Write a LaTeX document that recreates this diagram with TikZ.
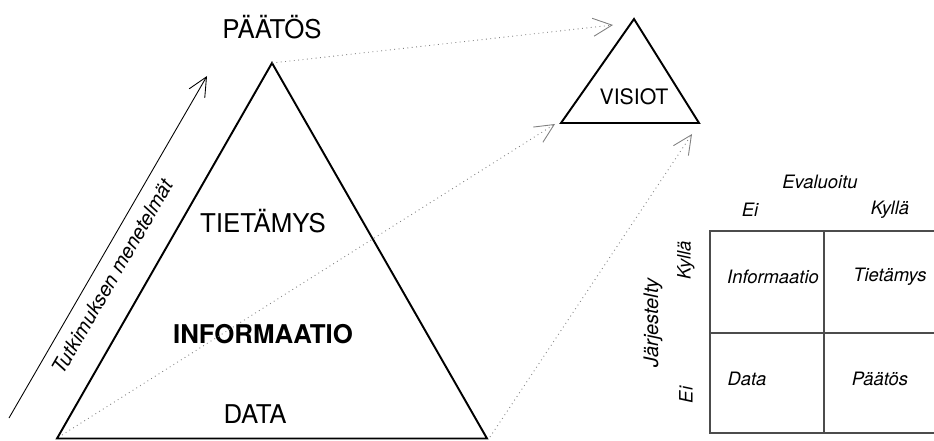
\documentclass[tikz,border=0pt]{standalone}
\usepackage{fontspec}
\setmainfont{TeX Gyre Heros}
\usetikzlibrary{arrows.meta}
\tikzset{
  big/.style={font=\fontsize{14.7}{17}\selectfont, inner sep=0pt},
  mid/.style={font=\fontsize{12.1}{14}\selectfont, inner sep=0pt},
  lab/.style={font=\fontsize{10.5}{12}\selectfont\itshape, inner sep=0pt},
  pyr/.style={line width=1.1pt, line join=miter},
  conn/.style={gray, dotted, line width=0.5pt, -{Straight Barb[length=3.8mm,width=3.6mm,line width=0.5pt]}},
  grid/.style={black!70, line width=0.6pt}
}

\begin{document}
\begin{tikzpicture}[scale=1.0]
  \useasboundingbox (0,0) rectangle (18.68,8.8);

  % Pyramid
  \coordinate (top) at (5.44,7.54);
  \coordinate (bl) at (1.14,0.03);
  \coordinate (br) at (9.74,0.03);
  \draw[pyr] (bl) -- (top) -- (br) -- cycle;

  \node[big] (paatos) at (5.44,8.26) {PÄÄTÖS};
  \node[big] (tietamys) at (5.26,4.38) {TIETÄMYS};
  \node[big, font=\fontsize{14.7}{17}\selectfont\bfseries] (informaatio) at (5.26,2.12) {INFORMAATIO};
  \node[big] (data) at (5.1,0.52) {DATA};

  % Research methods arrow
  \coordinate (mstart) at (0.18,0.44);
  \coordinate (mend) at (4.14,7.28);
  \draw[line width=0.5pt, -{Straight Barb[length=3.8mm,width=3.6mm]}] (mstart) -- (mend)
    node[lab, font=\fontsize{11.4}{13}\selectfont\itshape, pos=0.44, sloped, below=6pt] (menetelmat) {Tutkimuksen menetelmät};

  % Visions
  \coordinate (vtop) at (12.68,8.42);
  \coordinate (vbl) at (11.22,6.34);
  \coordinate (vbr) at (13.98,6.34);
  \draw[pyr] (vbl) -- (vtop) -- (vbr) -- cycle;
  \node[mid] (visiot) at (12.68,6.86) {VISIOT};

  % Dotted links
  \coordinate (s2) at (1.24,0.1);
  \coordinate (s3) at (9.8,0.06);
  \coordinate (t1) at (12.26,8.3);
  \coordinate (t2) at (11.1,6.32);
  \coordinate (t3) at (13.84,6.12);
  \draw[conn] (top) -- (t1);
  \draw[conn] (s2) -- (t2);
  \draw[conn] (s3) -- (t3);

  % Table
  \coordinate (tl) at (14.2,4.18);
  \coordinate (tr) at (18.68,4.18);
  \coordinate (ml) at (14.2,2.14);
  \coordinate (mr) at (18.68,2.14);
  \coordinate (bbl) at (14.2,0.14);
  \coordinate (bbr) at (18.68,0.14);
  \coordinate (ct) at (16.48,4.18);
  \coordinate (cb) at (16.48,0.14);
  \draw[grid] (tr) -- (tl) -- (bbl) -- (bbr);
  \draw[grid] (ml) -- (mr);
  \draw[grid] (ct) -- (cb);

  \node[lab] (evaluoitu) at (16.4,5.16) {Evaluoitu};
  \node[lab] (evei) at (15.0,4.6) {Ei};
  \node[lab] (evkylla) at (17.8,4.6) {Kyllä};
  \node[lab, font=\fontsize{11.4}{13}\selectfont\itshape, rotate=90] (jarjestelty) at (13.06,2.34) {Järjestelty};
  \node[lab, rotate=90] (jkylla) at (13.72,3.6) {Kyllä};
  \node[lab, rotate=90] (jei) at (13.72,0.9) {Ei};

  \node[lab] (cinfo) at (15.46,3.26) {Informaatio};
  \node[lab] (ctieto) at (17.8,3.26) {Tietämys};
  \node[lab] (cdata) at (14.94,1.22) {Data};
  \node[lab] (cpaatos) at (17.6,1.22) {Päätös};
\end{tikzpicture}
\end{document}
